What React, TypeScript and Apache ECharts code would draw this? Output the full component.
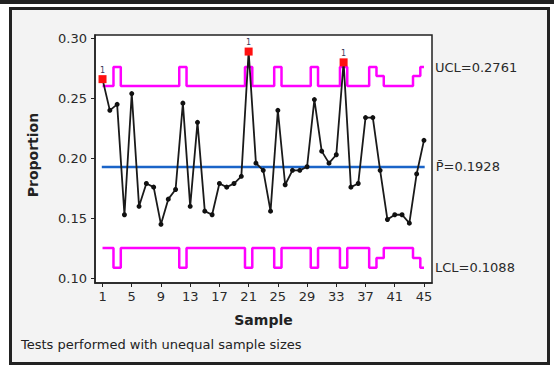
import React, { useEffect, useRef } from "react";
import * as echarts from "echarts";

// Sample numbers (x axis) and tick labels
const sampleNumbers = Array.from({ length: 45 }, (_, i) => i + 1);
const xTickValues = [1, 5, 9, 13, 17, 21, 25, 29, 33, 37, 41, 45];
const yTickValues = [0.1, 0.15, 0.2, 0.25, 0.3];

// Proportion defective per sample
const proportions = [
  0.266, 0.240, 0.245, 0.153, 0.254, 0.160, 0.179, 0.176, 0.145, 0.166,
  0.174, 0.246, 0.160, 0.230, 0.156, 0.153, 0.179, 0.176, 0.179, 0.185,
  0.289, 0.196, 0.190, 0.156, 0.240, 0.178, 0.190, 0.190, 0.193, 0.249,
  0.206, 0.196, 0.203, 0.280, 0.176, 0.179, 0.234, 0.234, 0.190, 0.149,
  0.153, 0.153, 0.146, 0.187, 0.215,
];

// Upper control limits per sample (unequal sample sizes)
const ucl = [
  0.2603, 0.2603, 0.2761, 0.2603, 0.2603, 0.2603, 0.2603, 0.2603, 0.2603, 0.2603,
  0.2603, 0.2761, 0.2603, 0.2603, 0.2603, 0.2603, 0.2603, 0.2603, 0.2603, 0.2603,
  0.2761, 0.2603, 0.2603, 0.2603, 0.2761, 0.2603, 0.2603, 0.2603, 0.2603, 0.2761,
  0.2603, 0.2603, 0.2603, 0.2761, 0.2603, 0.2603, 0.2603, 0.2761, 0.2686, 0.2603,
  0.2603, 0.2603, 0.2603, 0.2686, 0.2761,
];

// Lower control limits per sample
const lcl = [
  0.1253, 0.1253, 0.1088, 0.1253, 0.1253, 0.1253, 0.1253, 0.1253, 0.1253, 0.1253,
  0.1253, 0.1088, 0.1253, 0.1253, 0.1253, 0.1253, 0.1253, 0.1253, 0.1253, 0.1253,
  0.1088, 0.1253, 0.1253, 0.1253, 0.1088, 0.1253, 0.1253, 0.1253, 0.1253, 0.1088,
  0.1253, 0.1253, 0.1253, 0.1088, 0.1253, 0.1253, 0.1253, 0.1088, 0.1170, 0.1253,
  0.1253, 0.1253, 0.1253, 0.1170, 0.1088,
];

const pBar = 0.1928;
const uclLabel = "UCL=0.2761";
const lclLabel = "LCL=0.1088";
const pBarLabel = "P\u0304=0.1928";
const footnote = "Tests performed with unequal sample sizes";

const FONT = "DejaVu Sans";

export default function App() {
  const ref = useRef<HTMLDivElement>(null);

  useEffect(() => {
    if (!ref.current) return;
    const chart = echarts.init(ref.current, undefined, { renderer: "svg" });

    const pointData = proportions.map((v, i) => {
      const out = v > ucl[i] || v < lcl[i];
      return out
        ? {
            value: [sampleNumbers[i], v],
            symbol: "rect",
            symbolSize: 8,
            itemStyle: { color: "#ff1010" },
            label: {
              show: true,
              position: "top",
              distance: 1,
              formatter: "1",
              fontSize: 8,
              fontFamily: FONT,
              color: "#3a3a5a",
            },
          }
        : { value: [sampleNumbers[i], v] };
    });

    const endLabelBase = {
      show: true,
      distance: 11,
      fontSize: 13,
      fontFamily: FONT,
      color: "#2a2a2a",
    };

    chart.setOption({
      animation: false,
      grid: {
        left: 95,
        right: 122,
        top: 35,
        bottom: 85,
        show: true,
        backgroundColor: "#ffffff",
        borderColor: "#222",
        borderWidth: 1.5,
      },
      xAxis: {
        type: "value",
        min: -0.03,
        max: 46.1,
        splitLine: { show: false },
        axisLine: { show: true, onZero: false, lineStyle: { color: "#222", width: 1.5 } },
        axisTick: { show: true, customValues: xTickValues, length: 4, lineStyle: { color: "#222" } },
        axisLabel: {
          customValues: xTickValues,
          fontSize: 13,
          fontFamily: FONT,
          color: "#2a2a2a",
          margin: 7,
        },
        name: "Sample",
        nameLocation: "middle",
        nameGap: 30,
        nameTextStyle: { fontSize: 14, fontWeight: "bold", fontFamily: FONT, color: "#222" },
      },
      yAxis: {
        type: "value",
        min: 0.0961,
        max: 0.3028,
        splitLine: { show: false },
        axisLine: { show: true, onZero: false, lineStyle: { color: "#222", width: 1.5 } },
        axisTick: { show: true, customValues: yTickValues, length: 4, lineStyle: { color: "#222" } },
        axisLabel: {
          customValues: yTickValues,
          formatter: (v: number) => v.toFixed(2),
          fontSize: 13,
          fontFamily: FONT,
          color: "#2a2a2a",
          margin: 8,
        },
        name: "Proportion",
        nameLocation: "middle",
        nameGap: 55,
        nameRotate: 90,
        nameTextStyle: {
          fontSize: 14,
          fontWeight: "bold",
          fontFamily: FONT,
          color: "#222",
          padding: [0, 0, 0, 8],
        },
      },
      graphic: [
        {
          type: "text",
          left: 21,
          top: 338,
          style: { text: footnote, fontSize: 13, fontFamily: FONT, fill: "#222" },
        },
      ],
      series: [
        {
          type: "line",
          step: "middle",
          data: ucl.map((v, i) => [sampleNumbers[i], v]),
          symbol: "none",
          lineStyle: { color: "#ff00ff", width: 2.5 },
          endLabel: { ...endLabelBase, formatter: uclLabel },
          z: 2,
        },
        {
          type: "line",
          step: "middle",
          data: lcl.map((v, i) => [sampleNumbers[i], v]),
          symbol: "none",
          lineStyle: { color: "#ff00ff", width: 2.5 },
          endLabel: { ...endLabelBase, formatter: lclLabel },
          z: 2,
        },
        {
          type: "line",
          data: [
            [sampleNumbers[0] - 0.1, pBar],
            [sampleNumbers[sampleNumbers.length - 1] + 0.1, pBar],
          ],
          symbol: "none",
          lineStyle: { color: "#1a64c8", width: 2.5 },
          endLabel: { ...endLabelBase, formatter: pBarLabel },
          z: 3,
        },
        {
          type: "line",
          data: pointData,
          symbol: "circle",
          symbolSize: 5,
          showAllSymbol: true,
          itemStyle: { color: "#111" },
          lineStyle: { color: "#1a1a1a", width: 1.8 },
          z: 4,
        },
      ],
    });

    return () => chart.dispose();
  }, []);

  return (
    <div style={{ position: "absolute", left: 0, top: 0, width: 554, height: 368, background: "#ffffff" }}>
      <div style={{ position: "absolute", left: 0, top: 0, width: 554, height: 4, background: "#222" }} />
      <div
        style={{
          position: "absolute",
          left: 9,
          top: 7,
          width: 541,
          height: 358,
          boxSizing: "border-box",
          border: "3px solid #222",
          background: "#f3f3f3",
        }}
      />
      <div ref={ref} style={{ position: "absolute", left: 0, top: 0, width: 554, height: 368 }} />
    </div>
  );
}
